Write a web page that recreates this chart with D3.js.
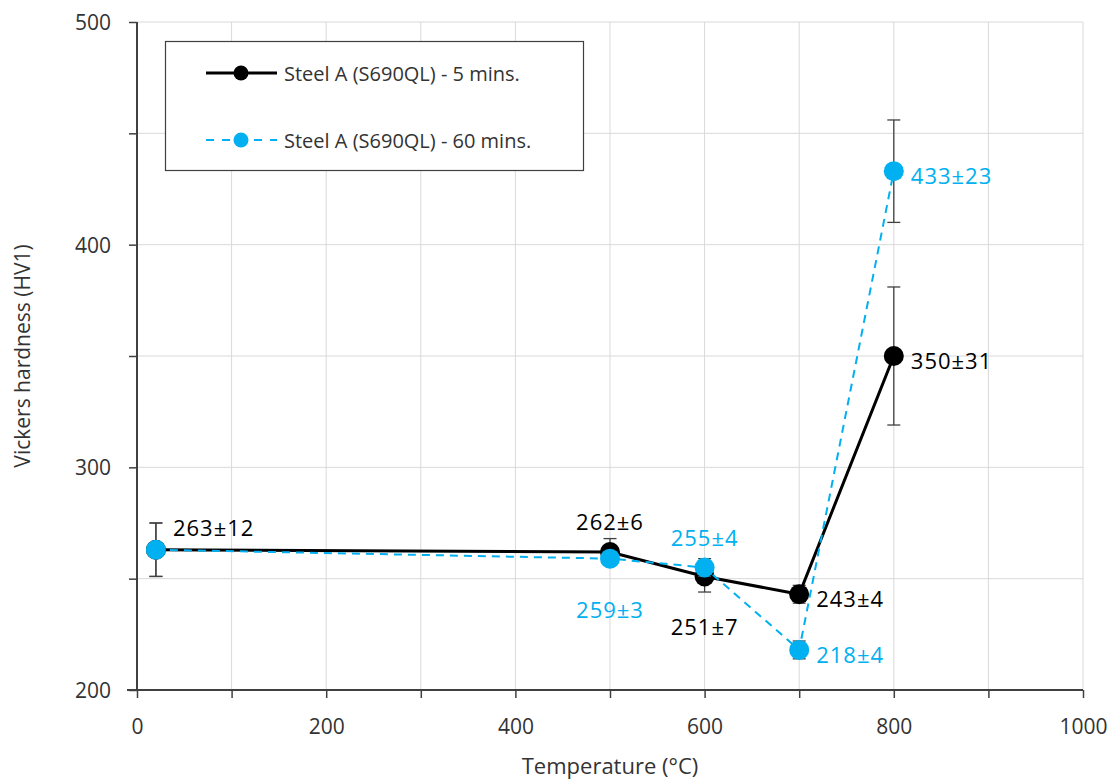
<!DOCTYPE html>
<html>
<head>
<meta charset="utf-8">
<script src="https://cdn.jsdelivr.net/npm/d3@7"></script>
<style>
  body { margin: 0; background: #fff; }
  svg text { font-family: "Open Sans", "Noto Sans", sans-serif; }
</style>
</head>
<body>
<svg id="chart" width="1120" height="783"></svg>
<script>
// Hardness measurements, temperature in °C
const temperatures = [20, 500, 600, 700, 800];
const hv5min = [263, 262, 251, 243, 350];
const err5min = [12, 6, 7, 4, 31];
const hv60min = [263, 259, 255, 218, 433];
const err60min = [12, 3, 4, 4, 23];
const seriesNames = ["Steel A (S690QL) - 5 mins.", "Steel A (S690QL) - 60 mins."];
const xTicks = [0, 200, 400, 600, 800, 1000];
const yTicks = [200, 300, 400, 500];

// label placement for each point's value text ("none" = no label)
const place5 = ["aboveright", "above", "below", "right", "right"];
const place60 = ["none", "below", "above", "right", "right"];

const svg = d3.select("#chart");
const margin = { left: 137, right: 1083, top: 22, bottom: 690 };

const x = d3.scaleLinear().domain([0, 1000]).range([margin.left, margin.right]);
const y = d3.scaleLinear().domain([200, 500]).range([margin.bottom, margin.top]);

const gridColor = "#d9d9d9";
const axisColor = "#404040";
const blue = "#00b0f0";

// gridlines
svg.append("g").selectAll("line").data(d3.range(100, 1001, 100)).join("line")
  .attr("x1", d => x(d)).attr("x2", d => x(d))
  .attr("y1", y(200)).attr("y2", y(500))
  .attr("stroke", gridColor).attr("stroke-width", 1);
svg.append("g").selectAll("line").data(d3.range(250, 501, 50)).join("line")
  .attr("x1", x(0)).attr("x2", x(1000))
  .attr("y1", d => y(d)).attr("y2", d => y(d))
  .attr("stroke", gridColor).attr("stroke-width", 1);

// axes
const xAxis = svg.append("g").attr("transform", `translate(0,${y(200)})`)
  .call(d3.axisBottom(x).tickValues(d3.range(0, 1001, 100))
    .tickFormat(d => xTicks.includes(d) ? d : "").tickSize(8).tickSizeOuter(0));
const yAxis = svg.append("g").attr("transform", `translate(${x(0)},0)`)
  .call(d3.axisLeft(y).tickValues(d3.range(200, 501, 50))
    .tickFormat(d => yTicks.includes(d) ? d : "").tickSize(8).tickSizeOuter(0));
[xAxis, yAxis].forEach(g => {
  g.select(".domain").attr("stroke", axisColor).attr("stroke-width", 2);
  g.selectAll(".tick line").attr("stroke", axisColor).attr("stroke-width", 1.5);
  g.selectAll(".tick text").attr("fill", "#333").style("font-size", "21px")
    .style("font-family", '"Open Sans", sans-serif');
});
xAxis.selectAll(".tick text").attr("dy", "0.35em").attr("y", 37);
yAxis.selectAll(".tick text").attr("x", -26).attr("dy", "0.35em");
yAxis.select(".domain").attr("d", `M0,${y(500)}V${y(200)}`);
xAxis.select(".domain").attr("d", `M${x(0) - 10},0H${x(1000)}`);

// axis titles
svg.append("text").attr("x", (x(0) + x(1000)) / 2).attr("y", 774)
  .attr("text-anchor", "middle").attr("fill", "#333").style("font-size", "22px")
  .text("Temperature (°C)");
svg.append("text").attr("transform", `translate(30,${(y(200) + y(500)) / 2}) rotate(-90)`)
  .attr("text-anchor", "middle").attr("fill", "#333").style("font-size", "21px")
  .text("Vickers hardness (HV1)");

const series = [
  { name: seriesNames[0], vals: hv5min, errs: err5min, color: "#000", width: 3, dash: null, place: place5 },
  { name: seriesNames[1], vals: hv60min, errs: err60min, color: blue, width: 2, dash: "8,6", place: place60 }
];

const line = d3.line().x(d => x(d[0])).y(d => y(d[1]));

series.forEach(s => {
  const pts = temperatures.map((t, i) => [t, s.vals[i], s.errs[i], s.place[i]]);
  const g = svg.append("g");
  // error bars
  const eb = g.append("g").selectAll("g").data(pts).join("g");
  eb.append("line").attr("x1", d => x(d[0])).attr("x2", d => x(d[0]))
    .attr("y1", d => y(d[1] - d[2])).attr("y2", d => y(d[1] + d[2]))
    .attr("stroke", axisColor).attr("stroke-width", 1.3);
  [-1, 1].forEach(sg => {
    eb.append("line").attr("x1", d => x(d[0]) - 6.5).attr("x2", d => x(d[0]) + 6.5)
      .attr("y1", d => y(d[1] + sg * d[2])).attr("y2", d => y(d[1] + sg * d[2]))
      .attr("stroke", axisColor).attr("stroke-width", 1.3);
  });
  // line
  g.append("path").datum(pts).attr("d", line).attr("fill", "none")
    .attr("stroke", s.color).attr("stroke-width", s.width)
    .attr("stroke-dasharray", s.dash);
  // markers
  g.selectAll("circle").data(pts).join("circle")
    .attr("cx", d => x(d[0])).attr("cy", d => y(d[1])).attr("r", 10)
    .attr("fill", s.color);
  s.pts = pts;
});

// value labels on top
const dx = { right: 17, aboveright: 17, above: 0, below: 0 };
const dy = { right: 4, aboveright: -23, above: -31, below: 50 };
series.forEach(s => {
  svg.append("g").selectAll("text").data(s.pts.filter(d => d[3] !== "none")).join("text")
    .attr("x", d => x(d[0]) + dx[d[3]])
    .attr("y", d => y(d[1]) + dy[d[3]])
    .attr("dominant-baseline", "central")
    .attr("text-anchor", d => d[3] === "above" || d[3] === "below" ? "middle" : "start")
    .attr("fill", s.color).style("font-size", "22px").style("letter-spacing", "1px")
    .text(d => `${d[1]}±${d[2]}`);
});

// legend
const lg = svg.append("g");
lg.append("rect").attr("x", 165.5).attr("y", 41.5).attr("width", 418).attr("height", 129)
  .attr("fill", "#fff").attr("stroke", "#404040").attr("stroke-width", 1.2);
series.forEach((s, i) => {
  const ly = 73 + i * 67;
  lg.append("line").attr("x1", 206).attr("x2", 277).attr("y1", ly).attr("y2", ly)
    .attr("stroke", s.color).attr("stroke-width", s.width).attr("stroke-dasharray", s.dash ? "8,8" : null);
  lg.append("circle").attr("cx", 241).attr("cy", ly).attr("r", 7.5).attr("fill", s.color);
  lg.append("text").attr("x", 284).attr("y", ly).attr("dominant-baseline", "central")
    .attr("fill", "#333").style("font-size", "20px").text(s.name);
});
</script>
</body>
</html>
